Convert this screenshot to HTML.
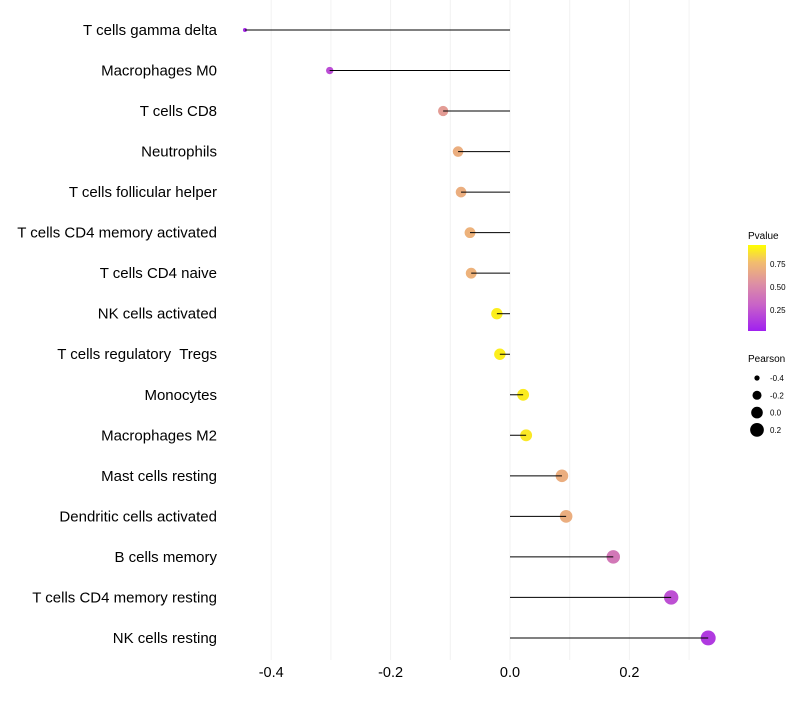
<!DOCTYPE html>
<html><head><meta charset="utf-8"><style>
body{margin:0;background:#fff}
svg text{font-family:"Liberation Sans",sans-serif;white-space:pre}
</style></head><body>
<svg id="chart" width="800" height="700" xmlns="http://www.w3.org/2000/svg">
<defs><linearGradient id="pg" x1="0" y1="1" x2="0" y2="0">
<stop offset="0" stop-color="#a020f0"/><stop offset="0.3" stop-color="#c862c8"/><stop offset="0.55" stop-color="#dd8fa4"/><stop offset="0.8" stop-color="#f2bd6e"/><stop offset="1" stop-color="#ffff00"/></linearGradient></defs>
<g id="grid"></g><g id="marks"></g><g id="labels"></g><g id="ticks"></g>
<g>
<text x="748" y="239" font-size="10">Pvalue</text>
<rect x="748" y="245" width="18" height="86" fill="url(#pg)"/>
<text x="770" y="267" font-size="8">0.75</text>
<text x="770" y="290" font-size="8">0.50</text>
<text x="770" y="313" font-size="8">0.25</text>
</g>
<g id="sizeLegend">
<text x="748" y="362" font-size="10">Pearson</text>
</g>
</svg>
<script>
const categories=["T cells gamma delta","Macrophages M0","T cells CD8","Neutrophils","T cells follicular helper","T cells CD4 memory activated","T cells CD4 naive","NK cells activated","T cells regulatory  Tregs","Monocytes","Macrophages M2","Mast cells resting","Dendritic cells activated","B cells memory","T cells CD4 memory resting","NK cells resting"];
const pearson=[-0.444,-0.302,-0.112,-0.087,-0.082,-0.067,-0.065,-0.022,-0.017,0.022,0.027,0.087,0.094,0.173,0.270,0.332];
const pvalue=[0.05,0.2,0.62,0.72,0.72,0.74,0.74,0.95,0.95,0.94,0.93,0.72,0.72,0.42,0.22,0.12];
const xTicks=[-0.4,-0.2,0.0,0.2];
const xTickLabels=["-0.4","-0.2","0.0","0.2"];
const legendVals=[-0.4,-0.2,0.0,0.2];
const legendLabels=["-0.4","-0.2","0.0","0.2"];
const NS="http://www.w3.org/2000/svg";
const xs=v=>510+v*597;
const ys=i=>30+i*40.53;
const vmin=Math.min(...pearson),vmax=Math.max(...pearson);
const rs=v=>Math.sqrt(4+52*Math.max(0,(v-vmin)/(vmax-vmin)));
const stops=[[0,[160,32,240]],[0.3,[200,98,200]],[0.55,[221,143,164]],[0.8,[242,189,110]],[1,[255,255,0]]];
function col(p){for(let k=1;k<stops.length;k++){if(p<=stops[k][0]){const a=stops[k-1],b=stops[k],t=(p-a[0])/(b[0]-a[0]);return"rgb("+a[1].map((c,j)=>Math.round(c+(b[1][j]-c)*t)).join(",")+")";}}return"rgb(255,255,0)";}
function mk(tag,at,parent){const e=document.createElementNS(NS,tag);for(const k in at)e.setAttribute(k,at[k]);document.getElementById(parent).appendChild(e);return e;}
for(let v=-0.4;v<=0.31;v+=0.1){const g=mk("line",{x1:xs(v),x2:xs(v),y1:0,y2:660,stroke:"#f2f2f2","stroke-width":1},"grid");

}
categories.forEach((c,i)=>{
const y=ys(i);
const dot=mk("circle",{cx:xs(pearson[i]),cy:y,r:rs(pearson[i]),fill:col(pvalue[i])},"marks");


const ln=mk("line",{x1:xs(pearson[i]),x2:xs(0),y1:y,y2:y,stroke:"#000","stroke-width":1},"marks");


const t=mk("text",{x:217,y:y+5,"font-size":15,"text-anchor":"end",fill:"#000"},"labels");
t.textContent=c;


});
xTicks.forEach((v,i)=>{const t=mk("text",{x:xs(v),y:677,"font-size":14.5,"text-anchor":"middle",fill:"#000"},"ticks");
t.textContent=xTickLabels[i];

});
legendVals.forEach((v,i)=>{const y=378+i*17.3;
const c=mk("circle",{cx:757,cy:y,r:rs(v),fill:"#000"},"sizeLegend");


const t=mk("text",{x:770,y:y+3,"font-size":8},"sizeLegend");t.textContent=legendLabels[i];

});
</script>
</body></html>
